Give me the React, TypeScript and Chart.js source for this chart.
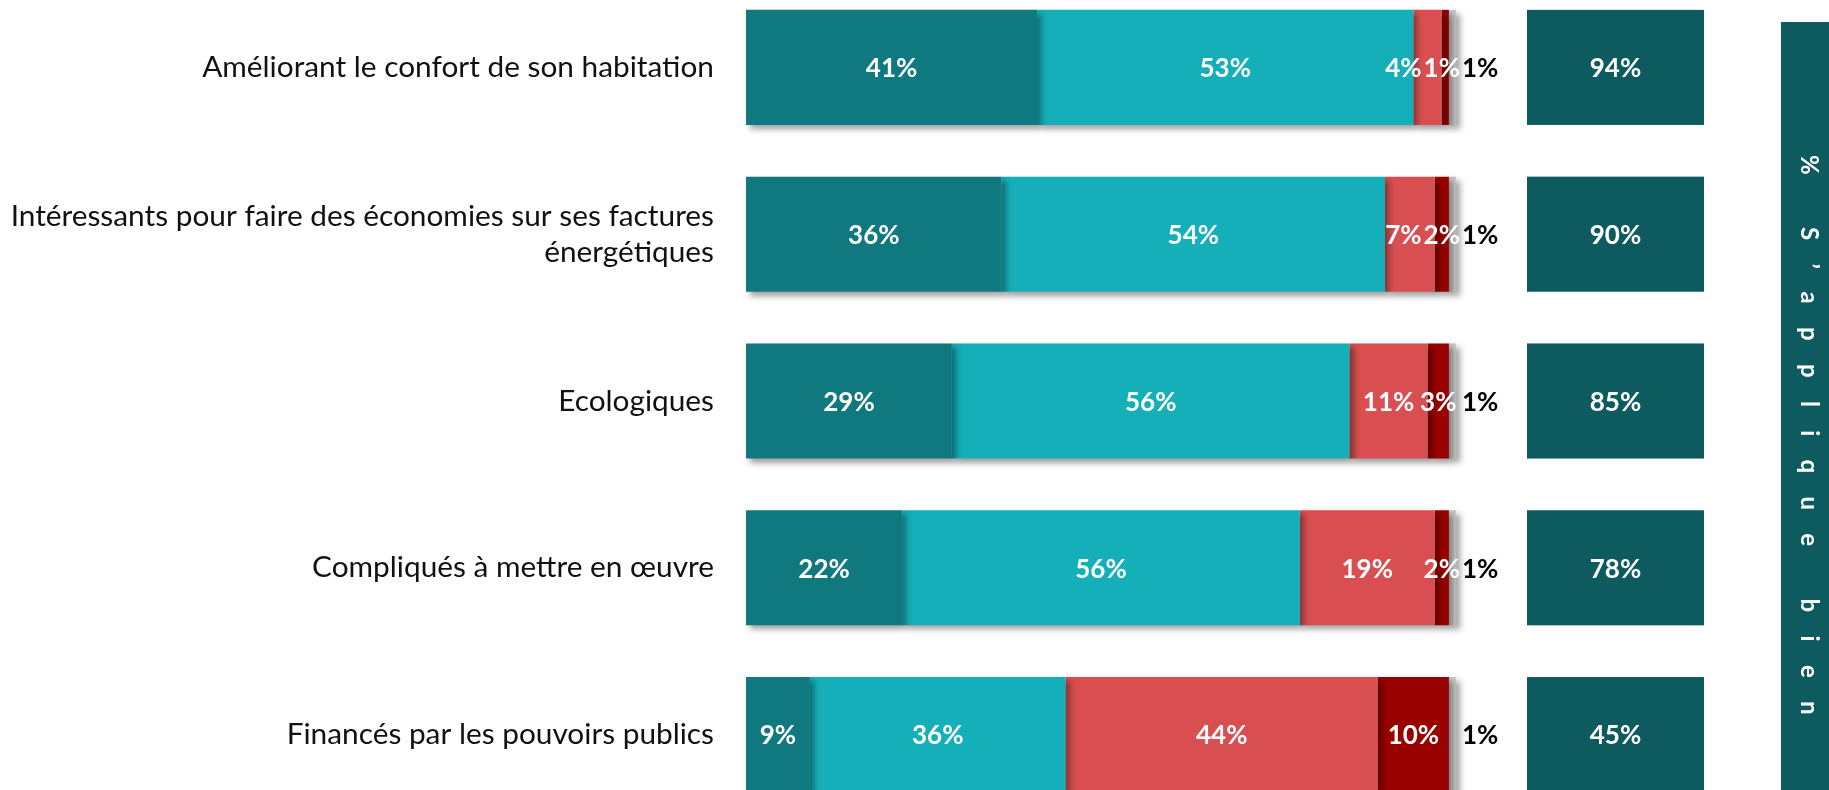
import React, { useEffect, useRef } from "react";
import { Chart, registerables } from "chart.js";

Chart.register(...registerables);

// ---------- data ----------
const categories: (string | string[])[] = [
  "Améliorant le confort de son habitation",
  ["Intéressants pour faire des économies sur ses factures", "énergétiques"],
  "Ecologiques",
  "Compliqués à mettre en œuvre",
  "Financés par les pouvoirs publics",
];
const seriesNames = ["Tout à fait", "Plutôt", "Plutôt pas", "Pas du tout", "NSP"];
const toutAFait = [41, 36, 29, 22, 9];
const plutot = [53, 54, 56, 56, 36];
const plutotPas = [4, 7, 11, 19, 44];
const pasDuTout = [1, 2, 3, 2, 10];
const nsp = [1, 1, 1, 1, 1];
const totalBien = [94, 90, 85, 78, 45];
const panelTitle = "% S’applique bien";

// ---------- styles ----------
const COLORS = ["#10787F", "#14AFB8", "#D94F51", "#990000", "#C9C9C9"];
const BOX_COLOR = "#0E5B5F";
const FONT = "Lato, 'Open Sans', sans-serif";
const W = 1829;
const H = 834;
const TOP_SHIFT = 16; // canvas starts above the viewport

const decorPlugin = {
  id: "decor",
  beforeDatasetsDraw(chart: any) {
    const ctx = chart.ctx;
    ctx.save();
    ctx.shadowColor = "rgba(0,0,0,0.38)";
    ctx.shadowBlur = 6;
    ctx.shadowOffsetX = 4;
    ctx.shadowOffsetY = 4;
  },
  afterDatasetsDraw(chart: any) {
    const ctx = chart.ctx;
    ctx.restore();
    const area = chart.chartArea;
    const n = categories.length;
    const nds = chart.data.datasets.length;

    // category labels
    ctx.save();
    ctx.fillStyle = "#111";
    ctx.font = `29.8px ${FONT}`;
    ctx.textAlign = "right";
    ctx.textBaseline = "middle";
    const lh = 36;
    for (let i = 0; i < n; i++) {
      const y = chart.scales.y.getPixelForValue(i);
      const lab = categories[i];
      const lines = Array.isArray(lab) ? lab : [lab];
      lines.forEach((l, k) => {
        ctx.fillText(l, area.left - 32, y + (k - (lines.length - 1) / 2) * lh);
      });
    }
    ctx.restore();

    // value labels inside bars (right-to-left collision avoidance)
    ctx.save();
    ctx.font = `bold 26px ${FONT}`;
    ctx.textBaseline = "middle";
    ctx.textAlign = "center";
    const dy = 1.5;
    for (let i = 0; i < n; i++) {
      let nextLeft = Infinity;
      for (let d = nds - 1; d >= 0; d--) {
        const el: any = chart.getDatasetMeta(d).data[i];
        const v = chart.data.datasets[d].data[i];
        const txt = `${v}%`;
        const w = ctx.measureText(txt).width;
        if (d === nds - 1) {
          const left = el.x + 6;
          ctx.fillStyle = "#000";
          ctx.fillText(txt, left + w / 2, el.y + dy);
          nextLeft = left;
          continue;
        }
        let c = (el.x + el.base) / 2;
        const limit = nextLeft - 2;
        if (c + w / 2 > limit) c = limit - w / 2;
        ctx.fillStyle = "#fff";
        ctx.fillText(txt, c, el.y + dy);
        nextLeft = c - w / 2;
      }
    }

    // total boxes "% s'applique bien"
    const boxLeft = area.right + 71;
    const boxW = 177;
    for (let i = 0; i < n; i++) {
      const el: any = chart.getDatasetMeta(0).data[i];
      ctx.fillStyle = BOX_COLOR;
      ctx.fillRect(boxLeft, el.y - el.height / 2, boxW, el.height);
      ctx.fillStyle = "#fff";
      ctx.fillText(`${totalBien[i]}%`, boxLeft + boxW / 2, el.y + dy);
    }

    // side panel
    const px = 1781;
    const py = 22 + TOP_SHIFT;
    ctx.fillStyle = BOX_COLOR;
    ctx.fillRect(px, py, chart.width - px, chart.height - py);
    ctx.translate(1809, 155 + TOP_SHIFT);
    ctx.rotate(Math.PI / 2);
    ctx.fillStyle = "#fff";
    ctx.font = `bold 24px ${FONT}`;
    ctx.textAlign = "left";
    ctx.textBaseline = "middle";
    (ctx as any).letterSpacing = "23.3px";
    ctx.fillText(panelTitle, 0, 0);
    ctx.restore();
  },
};

export default function App() {
  const ref = useRef<HTMLCanvasElement | null>(null);
  useEffect(() => {
    if (!ref.current) return;
    const seriesValues = [toutAFait, plutot, plutotPas, pasDuTout, nsp];
    const chart = new Chart(ref.current, {
      type: "bar",
      data: {
        labels: categories as any,
        datasets: seriesValues.map((vals, k) => ({
          label: seriesNames[k],
          data: vals,
          backgroundColor: COLORS[k],
          borderWidth: 0,
          categoryPercentage: 1,
          barPercentage: 0.69,
          clip: false as any,
        })),
      },
      options: {
        indexAxis: "y",
        responsive: false,
        animation: false,
        events: [],
        layout: { padding: { left: 746, right: W - 1456, top: 0, bottom: 0 } },
        scales: {
          x: { stacked: true, min: 0, max: 100, display: false },
          y: { stacked: true, display: false },
        },
        plugins: {
          legend: { display: false },
          tooltip: { enabled: false },
        },
      },
      plugins: [decorPlugin],
    });
    return () => chart.destroy();
  }, []);
  return (
    <div
      style={{
        position: "fixed",
        left: 0,
        top: -TOP_SHIFT,
        width: W,
        height: H,
        background: "#fff",
      }}
    >
      <canvas ref={ref} width={W} height={H} style={{ display: "block" }} />
    </div>
  );
}
